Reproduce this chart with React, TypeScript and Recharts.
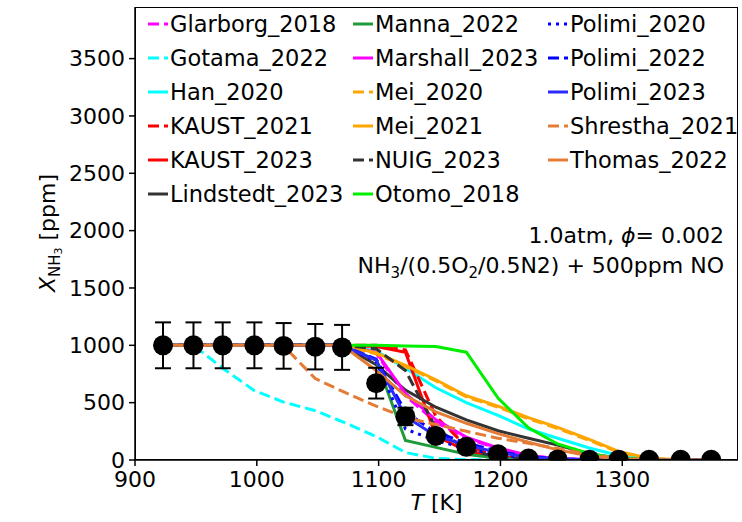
import React from 'react';
import { ComposedChart, Line, Scatter, ErrorBar, XAxis, YAxis } from 'recharts';

// temperatures (K) of the experiment and of the model runs
const temps = [923, 948, 972, 998, 1022, 1048, 1070, 1098, 1122, 1147, 1172, 1198, 1223, 1247, 1273, 1297, 1322, 1348, 1373];

// measured NH3 (ppm) and its error bar
const expNH3 = [1000, 1000, 1000, 1000, 995, 988, 982, 670, 380, 210, 115, 50, 12, 5, 3, 3, 2, 2, 2];
const expErr = [200, 200, 200, 200, 199, 198, 196, 134, 76, 42, 23, 10, 2, 1, 1, 1, 0, 0, 0];

// model predictions (ppm)
const glarborg2018 = [1000, 1000, 1000, 1000, 1000, 1000, 1000, 930, 560, 330, 190, 100, 38, 12, 3, 1, 0, 0, 0];
const gotama2022 = [1000, 1000, 800, 605, 505, 430, 335, 205, 65, 15, 3, 1, 0, 0, 0, 0, 0, 0, 0];
const han2020 = [1000, 1000, 1000, 1000, 1000, 1000, 1000, 950, 800, 630, 500, 390, 270, 190, 105, 40, 8, 1, 0];
const kaust2021 = [1000, 1000, 1000, 1000, 1000, 1000, 1000, 1000, 960, 380, 120, 35, 8, 2, 0, 0, 0, 0, 0];
const kaust2023 = [1000, 1000, 1000, 1000, 1000, 1000, 1000, 990, 940, 210, 80, 25, 5, 1, 0, 0, 0, 0, 0];
const lindstedt2023 = [1000, 1000, 1000, 1000, 1000, 1000, 1000, 830, 610, 460, 350, 255, 190, 130, 55, 15, 3, 1, 0];
const manna2022 = [1000, 1000, 1000, 1000, 1000, 1000, 1000, 870, 170, 110, 50, 15, 4, 1, 0, 0, 0, 0, 0];
const marshall2023 = [1000, 1000, 1000, 1000, 1000, 1000, 1000, 940, 580, 350, 200, 105, 40, 12, 3, 1, 0, 0, 0];
const mei2020 = [1000, 1000, 1000, 1000, 1000, 1000, 1000, 925, 815, 690, 550, 460, 360, 275, 170, 68, 12, 2, 0];
const mei2021 = [1000, 1000, 1000, 1000, 1000, 1000, 1000, 935, 825, 700, 560, 470, 370, 285, 180, 75, 15, 3, 1];
const nuig2023 = [1000, 1000, 1000, 1000, 1000, 1000, 1000, 970, 780, 280, 90, 25, 5, 1, 0, 0, 0, 0, 0];
const otomo2018 = [1000, 1000, 1000, 1000, 1000, 1000, 1000, 1000, 995, 990, 940, 540, 280, 140, 55, 15, 3, 1, 0];
const polimi2020 = [1000, 1000, 1000, 1000, 1000, 1000, 1000, 860, 270, 170, 100, 45, 15, 4, 1, 0, 0, 0, 0];
const polimi2022 = [1000, 1000, 1000, 1000, 1000, 1000, 1000, 880, 420, 240, 150, 75, 30, 10, 3, 1, 0, 0, 0];
const polimi2023 = [1000, 1000, 1000, 1000, 1000, 1000, 1000, 870, 380, 210, 130, 65, 25, 8, 2, 0, 0, 0, 0];
const shrestha2021 = [1000, 1000, 1000, 1000, 995, 710, 600, 470, 370, 310, 250, 190, 145, 100, 50, 12, 3, 1, 0];
const thomas2022 = [1000, 1000, 1000, 1000, 1000, 1000, 1000, 780, 560, 420, 320, 230, 155, 88, 35, 10, 3, 1, 0];

const xTicks = [900, 1000, 1100, 1200, 1300];
const yTicks = [0, 500, 1000, 1500, 2000, 2500, 3000, 3500];

const DASH = '11 5';
const DOT = '3 5';

const series = [
  { name: 'Glarborg_2018', values: glarborg2018, color: '#ff00ff', dash: DASH },
  { name: 'Gotama_2022', values: gotama2022, color: '#00ffff', dash: DASH },
  { name: 'Han_2020', values: han2020, color: '#00ffff', dash: undefined },
  { name: 'KAUST_2021', values: kaust2021, color: '#ff0000', dash: DASH },
  { name: 'KAUST_2023', values: kaust2023, color: '#ff0000', dash: undefined },
  { name: 'Lindstedt_2023', values: lindstedt2023, color: '#333333', dash: undefined },
  { name: 'Manna_2022', values: manna2022, color: '#1f9a3a', dash: undefined },
  { name: 'Marshall_2023', values: marshall2023, color: '#ff00ff', dash: undefined },
  { name: 'Mei_2020', values: mei2020, color: '#ffa500', dash: DASH },
  { name: 'Mei_2021', values: mei2021, color: '#ffa500', dash: undefined },
  { name: 'NUIG_2023', values: nuig2023, color: '#333333', dash: DASH },
  { name: 'Otomo_2018', values: otomo2018, color: '#00ee00', dash: undefined },
  { name: 'Polimi_2020', values: polimi2020, color: '#0000ff', dash: DOT },
  { name: 'Polimi_2022', values: polimi2022, color: '#0000ff', dash: DASH },
  { name: 'Polimi_2023', values: polimi2023, color: '#2a2aff', dash: undefined },
  { name: 'Shrestha_2021', values: shrestha2021, color: '#e57c35', dash: DASH },
  { name: 'Thomas_2022', values: thomas2022, color: '#e57c35', dash: undefined },
];

const rows = temps.map((T, i) => {
  const row: Record<string, number> = { T };
  series.forEach((s) => { row[s.name] = s.values[i]; });
  return row;
});
const expRows = temps.map((T, i) => ({ T, X: expNH3[i], err: expErr[i] }));

const FONT = 'DejaVu Sans, sans-serif';
const tickStyle = { fill: '#000', fontSize: 22, fontFamily: FONT };
const axisStroke = { stroke: '#000', strokeWidth: 1.5 };

const XLabel = (props: any) => {
  const { x, y, width } = props.viewBox;
  return (
    <text x={x + width / 2} y={y + 50} textAnchor="middle" fontSize={22} fontFamily={FONT} fill="#000">
      <tspan fontStyle="italic">T</tspan> [K]
    </text>
  );
};

const YLabel = () => {
  const cx = 55, cy = 233;
  return (
    <text x={cx} y={cy} transform={`rotate(-90, ${cx}, ${cy})`} textAnchor="middle" fontSize={22} fontFamily={FONT} fill="#000">
      <tspan fontStyle="italic">X</tspan>
      <tspan fontSize={15} dy={5}>NH</tspan>
      <tspan fontSize={11} dy={2}>3</tspan>
      <tspan dy={-7}> [ppm]</tspan>
    </text>
  );
};

const Dot = (p: any) => <circle cx={p.cx} cy={p.cy} r={10} fill="#000" />;

const legendCols = [148, 353, 548];

const LegendBox = () => (
  <div style={{ position: 'absolute', left: 0, top: 0, pointerEvents: 'none' }}>
    {series.map((s, i) => {
      const col = Math.floor(i / 6);
      const r = i % 6;
      return (
        <div key={s.name} style={{ position: 'absolute', left: legendCols[col], top: 24 + r * 34 - 17, height: 34, display: 'flex', alignItems: 'center', whiteSpace: 'nowrap', fontSize: 22.5, fontFamily: FONT }}>
          <svg width={20} height={6} style={{ marginRight: 2 }}>
            <line x1={0} y1={3} x2={20} y2={3} stroke={s.color} strokeWidth={3} strokeDasharray={s.dash} />
          </svg>
          <span>{s.name}</span>
        </div>
      );
    })}
  </div>
);

export default function App() {
  return (
    <div style={{ position: 'absolute', left: 0, top: 0, width: 742, height: 522, background: '#fff', fontFamily: FONT }}>
      <ComposedChart width={742} height={522} data={rows} margin={{ top: 7, right: 4, bottom: 0, left: 0 }}>
        <XAxis type="number" dataKey="T" domain={[900, 1395]} ticks={xTicks} allowDataOverflow height={62}
          tick={tickStyle} tickSize={6} tickMargin={5} axisLine={axisStroke} tickLine={axisStroke} label={<XLabel />} />
        <YAxis type="number" domain={[0, 3950]} ticks={yTicks} allowDataOverflow width={135}
          tick={tickStyle} tickSize={6} tickMargin={4} axisLine={axisStroke} tickLine={axisStroke} label={<YLabel />} />
        {series.map((s) => (
          <Line key={s.name} type="linear" dataKey={s.name} stroke={s.color} strokeWidth={3}
            strokeDasharray={s.dash} dot={false} activeDot={false} isAnimationActive={false} />
        ))}
        <Scatter data={expRows} dataKey="X" fill="#000" shape={<Dot />} isAnimationActive={false}>
          <ErrorBar dataKey="err" direction="y" width={8} stroke="#000" strokeWidth={2} />
        </Scatter>
      </ComposedChart>
      <div style={{ position: 'absolute', left: 135, top: 7, width: 603, height: 453, boxSizing: 'border-box', border: '1.5px solid #000', pointerEvents: 'none' }} />
      <LegendBox />
      <svg width={742} height={522} style={{ position: 'absolute', left: 0, top: 0, pointerEvents: 'none' }}>
        <text x={724} y={243} textAnchor="end" fontSize={22} fontFamily={FONT} fill="#000">
          1.0atm, <tspan fontStyle="italic">ϕ</tspan>= 0.002
        </text>
        <text x={724} y={273} textAnchor="end" fontSize={22} fontFamily={FONT} fill="#000">
          NH<tspan fontSize={15} dy={5}>3</tspan>
          <tspan dy={-5}>/(0.5O</tspan>
          <tspan fontSize={15} dy={5}>2</tspan>
          <tspan dy={-5}>/0.5N2) + 500ppm NO</tspan>
        </text>
      </svg>
    </div>
  );
}
